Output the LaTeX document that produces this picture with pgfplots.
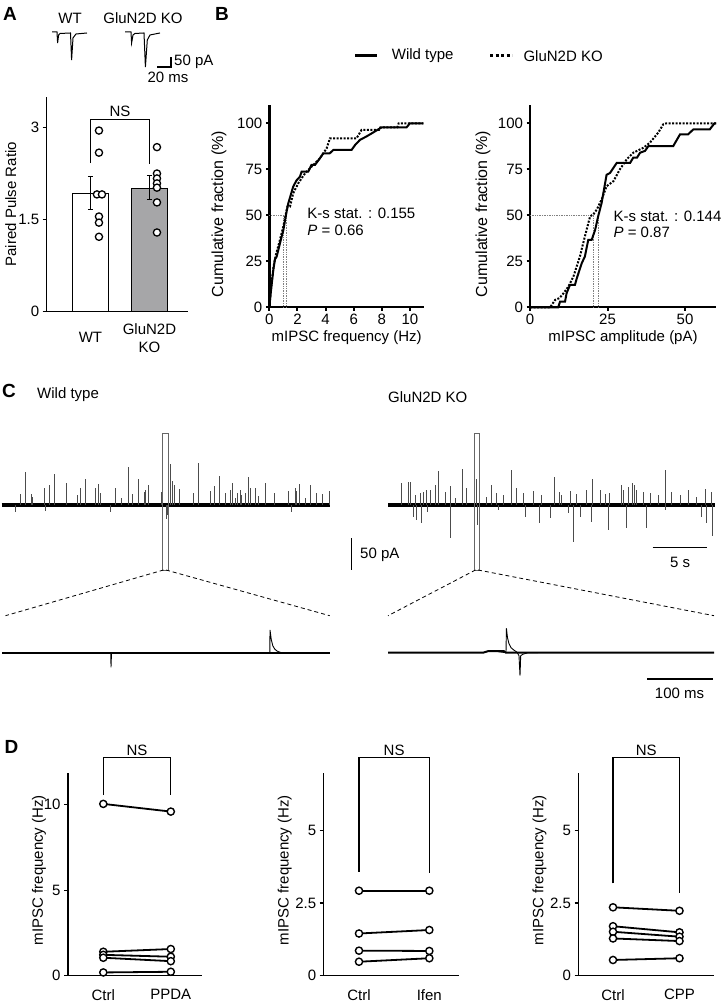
\documentclass[border=0pt]{standalone}
\usepackage{fontspec}
\setmainfont{Liberation Sans}
\usepackage{pgfplots}
\pgfplotsset{compat=1.18}
\definecolor{barg}{RGB}{166,166,168}
\newcommand{\fs}{\fontsize{15}{18}\selectfont}
\newcommand{\lf}{\fontsize{19}{22}\selectfont\bfseries}
\pgfplotsset{
 base/.style={scale only axis, anchor=south west, clip=false, font=\fs, /pgf/number format/assume math mode=true},
 myax/.style={base, axis x line*=bottom, axis y line*=left, axis line style={line width=1.2pt,-},
   tick align=outside, major tick length=4pt, every tick/.style={black, line width=1.2pt}},
 trace/.style={base, hide axis},
 pairline/.style={black, line width=1.8pt, mark=*, mark size=3.6pt, mark options={fill=white, line width=1.4pt}},
 errl/.style={black, line width=1pt, mark=none, forget plot},
 cdfax/.style={base, axis x line*=bottom, axis y line*=left, x axis line style={line width=2pt,-}, y axis line style={line width=2.6pt,-},
   tick align=outside, major tick length=3.5pt, every tick/.style={black, line width=2pt},
   ymin=0, ymax=110, ytick={0,25,50,75,100}, ylabel={Cumulative fraction (\%)}},
}
\begin{document}
\begin{tikzpicture}
\path[use as bounding box] (0,0) rectangle (720pt,1006pt);

% ---------------- Panel A traces ----------------
\begin{axis}[trace, width=160pt, height=80pt, at={(40pt,926pt)}, xmin=40, xmax=200, ymin=-80, ymax=0]
\addplot[black, line width=1pt] coordinates {(52,-32)(57,-32)(57.6,-43)(58.6,-35)(60,-33.5)(70.5,-33)(71.6,-60)(73,-38)(76,-34)(87,-33)};
\addplot[black, line width=1pt] coordinates {(125,-32)(131,-32)(131.6,-43)(133,-35)(135,-33.5)(144,-33)(145.4,-67)(147.3,-40)(150,-35)(160,-33)};
\end{axis}

% ---------------- Panel A bars ----------------
\begin{axis}[myax, width=141.3pt, height=214.9pt, at={(46.7pt,694.3pt)},
  xmin=-0.742, xmax=1.653, ymin=0, ymax=3.5, ytick={0,1.5,3}, yticklabels={0,1.5,3},
  xtick={0,1}, xticklabels={WT,{GluN2D\\KO}}, xtick style={draw=none},
  xticklabel style={align=center, anchor=center, yshift=-22pt},
  ylabel={Paired Pulse Ratio}, ylabel style={at={(axis description cs:-0.255,0.5)}, anchor=center}]
\addplot[ybar, bar width=36pt, fill=white, draw=black, line width=1pt] coordinates {(0,1.92)};
\addplot[ybar, bar width=36pt, fill=barg, draw=black, line width=1pt] coordinates {(1,2.01)};
% error bars (mean +- SEM)
\addplot[errl] coordinates {(0,1.66)(0,2.20)};
\addplot[errl] coordinates {(-0.045,1.66)(0.045,1.66)};
\addplot[errl] coordinates {(-0.045,2.20)(0.045,2.20)};
\addplot[errl] coordinates {(1,1.83)(1,2.22)};
\addplot[errl] coordinates {(0.955,1.83)(1.045,1.83)};
\addplot[errl] coordinates {(0.955,2.22)(1.045,2.22)};
\addplot[only marks, mark=*, mark size=3.6pt, mark options={fill=white, draw=black, line width=1.3pt}]
  coordinates {(0.144,2.95)(0.144,2.59)(0.11,1.91)(0.195,1.91)(0.144,1.55)(0.144,1.45)(0.144,1.22)};
\addplot[only marks, mark=*, mark size=3.6pt, mark options={fill=white, draw=black, line width=1.3pt}]
  coordinates {(1.127,2.68)(1.127,2.25)(1.127,2.17)(1.127,2.09)(1.127,2.02)(1.127,1.78)(1.127,1.29)};
\draw[line width=1pt] (axis cs:0,2.42) -- (axis cs:0,3.133) -- (axis cs:1,3.133) -- (axis cs:1,2.41);
\node[anchor=south, inner sep=2pt] at (axis cs:0.5,3.133) {NS};
\end{axis}

% ---------------- Panel B left ----------------
\begin{axis}[cdfax, width=154.7pt, height=202.4pt, at={(269.3pt,698.7pt)},
  xmin=0, xmax=11, xtick={0,2,4,6,8,10},
  xlabel={mIPSC frequency (Hz)}, xlabel style={at={(axis description cs:0.5,-0.152)}, anchor=center},
  ylabel style={at={(axis description cs:-0.325,0.461)}, anchor=center, font=\fontsize{16}{19}\selectfont}]
\addplot[gray, densely dotted, line width=0.7pt] coordinates {(0,50)(1.2,50)};
\addplot[gray, densely dotted, line width=0.7pt] coordinates {(1.0,0)(1.0,50)};
\addplot[gray, densely dotted, line width=0.7pt] coordinates {(1.2,0)(1.2,50)};
\addplot[black, line width=2pt] coordinates {(0,0)(0.1,7.6)(0.28,20)(0.4,26)(0.52,27.5)(0.76,34.8)(1.0,42)(1.23,52)(1.35,56.5)(1.7,65.6)(1.94,69)(2.18,71)(2.3,73.7)(2.77,73.7)(3.0,77.4)(3.25,77.4)(3.6,81)(3.84,83.7)(4.3,83.7)(4.55,85.5)(5.85,85.5)(6.1,88.2)(6.45,91)(6.9,92.8)(7.3,94.6)(7.75,96.7)(8.0,97.8)(9.76,97.8)(10.0,100)(10.95,100)};
\addplot[black, line width=2pt, dash pattern=on 2pt off 1.5pt] coordinates {(0,0)(0.12,10)(0.3,22)(0.45,28)(0.7,35)(1.0,44)(1.28,54.7)(1.47,54.7)(1.7,62)(2.06,67.4)(2.54,72.8)(3.13,77.4)(3.6,81)(4.08,86.4)(4.31,91.8)(6.2,91.8)(6.56,96.4)(7.8,96.4)(7.9,97.8)(9.1,97.8)(9.2,100)(10.95,100)};
\node[anchor=west, inner sep=0pt] at (axis cs:2.7,51.1) {K-s stat. : 0.155};
\node[anchor=west, inner sep=0pt] at (axis cs:2.7,42) {\textit{P} = 0.66};
\end{axis}

% ---------------- Panel B right ----------------
\begin{axis}[cdfax, width=186pt, height=202.4pt, at={(530pt,698.7pt)},
  xmin=0, xmax=60, xtick={0,25,50},
  xlabel={mIPSC amplitude (pA)}, xlabel style={at={(axis description cs:0.5,-0.152)}, anchor=center},
  ylabel style={at={(axis description cs:-0.253,0.461)}, anchor=center, font=\fontsize{16}{19}\selectfont}]
\addplot[gray, densely dotted, line width=0.7pt] coordinates {(0,50)(20.4,50)};
\addplot[gray, densely dotted, line width=0.7pt] coordinates {(20.4,0)(20.4,50)};
\addplot[gray, densely dotted, line width=0.7pt] coordinates {(22,0)(22,50)};
\addplot[black, line width=2pt] coordinates {(0,0)(9.1,0)(9.7,3.1)(11.3,3.1)(11.8,7.6)(12.9,12.2)(14.5,12.2)(15.1,15.8)(16.7,24)(17.7,27.6)(18.8,36.7)(19.9,36.7)(21,42)(22,49.5)(23.1,56.7)(24.7,72)(25.8,73)(28,78.5)(32.3,78.5)(33.3,81.3)(34.5,81.3)(35.5,84)(37.1,85)(38.2,87.6)(46.2,87.6)(48.4,94)(51,94)(52.7,96.7)(58,96.7)(59.5,100)(60,100)};
\addplot[black, line width=2pt, dash pattern=on 2pt off 1.5pt] coordinates {(0,0)(6.5,0)(8.1,4)(9.5,5)(10.8,7.6)(12.4,11.3)(14,16.7)(16.1,27.6)(17.7,38.5)(19.4,49.5)(20.4,50.4)(21.5,53)(23.1,58.5)(24.7,65.8)(26.9,68.5)(29,75)(31.2,80.4)(33.3,84)(36.6,86.7)(38.7,89.5)(41.4,95)(43,99.5)(44,100)(60,100)};
\node[anchor=west, inner sep=0pt] at (axis cs:26.9,49.6) {K-s stat. : 0.144};
\node[anchor=west, inner sep=0pt] at (axis cs:26.9,40.9) {\textit{P} = 0.87};
\end{axis}

% ---------------- Panel C overview traces ----------------
\begin{axis}[trace, width=328.3pt, height=100pt, at={(1.7pt,451pt)}, xmin=0, xmax=328.3, ymin=-50, ymax=50]
\addplot[black, line width=4pt] coordinates {(0,0)(328.3,0)};
\addplot[ycomb, black!70, line width=0.8pt] coordinates {(13.3,-6.7)(18.3,11)(23.3,33.3)(29.3,11)(30.7,8.3)(42.7,16.7)(43.3,-5.7)(47.7,20)(52.7,30.7)(65,21.7)(76,10)(78.3,16.7)(83.3,26)(93.3,16.7)(96.7,20.7)(98.3,12.3)(108.3,-6.7)(113.3,17.3)(119.3,6.7)(126.7,38.3)(130.7,11)(136.7,26)(142.7,13.3)(144,15)(146.7,20)(159.3,13.3)(165,-14.3)(166,-10)(168.3,41)(171,24.3)(172.7,20)(177.7,15.7)(191.7,11.7)(196.7,42.3)(208.3,14)(212.7,19)(217.3,29)(224,11.7)(228.3,15)(231,22.3)(233.3,6.7)(236,12.3)(238.3,15)(240,10)(244,11.7)(246.7,27.7)(248.3,16.7)(253.3,16.7)(256.7,9)(264,22.3)(272.7,11.7)(286.7,14)(289.3,-6.7)(293.3,16.7)(295,14.3)(297.3,21)(304,6.7)(308.3,20)(314.3,11.7)(321,11)(328,14.3)};
\end{axis}
\begin{axis}[trace, width=326.7pt, height=100pt, at={(388.3pt,451pt)}, xmin=0, xmax=326.7, ymin=-50, ymax=50]
\addplot[black, line width=4pt] coordinates {(0,0)(326.7,0)};
\addplot[ycomb, black!70, line width=0.8pt] coordinates {(13.3,22.3)(20,23.3)(21.7,23.3)(25,-11.7)(26.7,10)(27.7,-15)(31.7,11.7)(32.7,-18.3)(35,13.3)(38.3,15)(38.8,-6.7)(41.7,15)(46.7,20)(50,34.3)(56.7,13.3)(61.7,19)(62.3,-33.3)(66.7,6.7)(74,36)(78.3,16.7)(88.3,25.7)(88.8,-20)(98.3,8.3)(103.3,20)(108.3,11.7)(110,-5)(115,10)(123.3,35)(128.3,16.7)(135,11.7)(136.7,-11.7)(145,14.3)(150.7,-18.3)(153.3,10)(161.7,-13.3)(165.7,28.3)(170.7,13.3)(173.3,10)(180,-8.3)(181.7,14.3)(185,-36.7)(188.3,10.7)(191.7,-11.7)(198.3,15)(203.3,-16.7)(204.3,26)(211.7,15)(216.7,11)(220,-25)(221,11.7)(232.7,20)(235,15)(238.3,-23.3)(240,18.3)(244.3,21.7)(245.7,20)(248.3,15)(255,12.7)(258.3,-23.3)(261.7,11.7)(270,10)(276.7,35)(277.2,-5)(283.3,13.3)(291.7,10)(300,15)(308.3,7.7)(313.3,-11.7)(317.3,16)(318.3,-18.3)(323.3,13.3)(323.8,-30.7)};
\end{axis}

% ---------------- Panel C zoomed traces ----------------
\begin{axis}[trace, width=327.4pt, height=60pt, at={(2.3pt,323.3pt)}, xmin=0, xmax=327.4, ymin=-30, ymax=30]
\addplot[black, line width=2pt] coordinates {(0,0)(327.4,0)};
\addplot[black, line width=0.9pt] coordinates {(100,0)(108.5,0)(108.7,-14.6)(109.2,-1)(110,0)(267.5,0)(267.7,22.7)(269,13)(270.5,7)(272.5,3.5)(275,1.5)(279,0)(290,0)};
\end{axis}
\begin{axis}[trace, width=326pt, height=60pt, at={(388pt,323.3pt)}, xmin=0, xmax=326, ymin=-30, ymax=30]
\addplot[black, line width=2pt] coordinates {(0,0)(95,0)(100,1.5)(116,1.5)(118,0)(326,0)};
\addplot[black, line width=0.9pt] coordinates {(110,1)(118,0)(118.4,24.4)(119.5,15)(121,9)(123,5)(126,2.5)(129,0.5)(131,-3)(132,-23)(132.7,-3)(135,-1.5)(140,0)(150,0)};
\end{axis}

% ---------------- Panel D ----------------
\begin{axis}[myax, width=134pt, height=202.4pt, at={(68pt,30.3pt)},
  xmin=-0.523, xmax=1.462, ymin=0, ymax=11.84, ytick={0,5,10},
  xtick={0,1}, xticklabels={Ctrl,PPDA}, xtick style={draw=none}, xticklabel style={yshift=-6pt},
  ylabel={mIPSC frequency (Hz)}, ylabel style={at={(axis description cs:-0.216,0.522)}, anchor=center}]
\addplot[pairline] coordinates {(0,10.05)(1,9.6)};
\addplot[pairline] coordinates {(0,1.4)(1,1.56)};
\addplot[pairline] coordinates {(0,1.22)(1,1.11)};
\addplot[pairline] coordinates {(0,1.05)(1,0.85)};
\addplot[pairline] coordinates {(0,0.19)(1,0.23)};
\draw[line width=1.2pt] (axis cs:0,10.57) -- (axis cs:0,12.77) -- (axis cs:1,12.77) -- (axis cs:1,10.57);
\node[anchor=south, inner sep=1.5pt] at (axis cs:0.5,12.77) {NS};
\end{axis}
\begin{axis}[myax, width=135.3pt, height=202.4pt, at={(323.7pt,30.3pt)},
  xmin=-0.502, xmax=1.422, ymin=0, ymax=6.955, ytick={0,2.5,5}, yticklabels={0,2.5,5},
  xtick={0,1}, xticklabels={Ctrl,Ifen}, xtick style={draw=none}, xticklabel style={yshift=-6pt},
  ylabel={mIPSC frequency (Hz)}, ylabel style={at={(axis description cs:-0.288,0.522)}, anchor=center}]
\addplot[pairline] coordinates {(0,2.92)(1,2.92)};
\addplot[pairline] coordinates {(0,1.45)(1,1.57)};
\addplot[pairline] coordinates {(0,0.86)(1,0.85)};
\addplot[pairline] coordinates {(0,0.48)(1,0.6)};
\draw[line width=1.2pt] (axis cs:0,3.57) -- (axis cs:0,7.505) -- (axis cs:1,7.505) -- (axis cs:1,3.52);
\node[anchor=south, inner sep=1.5pt] at (axis cs:0.5,7.505) {NS};
\end{axis}
\begin{axis}[myax, width=135.5pt, height=202.4pt, at={(578.5pt,30.3pt)},
  xmin=-0.519, xmax=1.519, ymin=0, ymax=6.955, ytick={0,2.5,5}, yticklabels={0,2.5,5},
  xtick={0,1}, xticklabels={Ctrl,CPP}, xtick style={draw=none}, xticklabel style={yshift=-6pt},
  ylabel={mIPSC frequency (Hz)}, ylabel style={at={(axis description cs:-0.288,0.522)}, anchor=center}]
\addplot[pairline] coordinates {(0,2.35)(1,2.23)};
\addplot[pairline] coordinates {(0,1.70)(1,1.49)};
\addplot[pairline] coordinates {(0,1.51)(1,1.34)};
\addplot[pairline] coordinates {(0,1.28)(1,1.19)};
\addplot[pairline] coordinates {(0,0.54)(1,0.6)};
\draw[line width=1.2pt] (axis cs:0,3.175) -- (axis cs:0,7.505) -- (axis cs:1,7.505) -- (axis cs:1,2.83);
\node[anchor=south, inner sep=1.5pt] at (axis cs:0.5,7.505) {NS};
\end{axis}

% ---------------- Annotations in pixel coordinates ----------------
\begin{scope}[x=1pt, y=-1pt, yshift=1006pt, font=\fs]
\node[font=\lf] at (10,14) {A};
\node[font=\lf] at (222,14) {B};
\node[font=\lf] at (9,391) {C};
\node[font=\lf] at (11.5,746.7) {D};
\node at (70,18) {WT};
\node at (143,18) {GluN2D KO};
\draw[line width=1.2pt] (157,67) -- (171,67) -- (171,57);
\node[anchor=west, inner sep=0pt] at (174,62) {50 pA};
\node at (168,77) {20 ms};
% legend B
\draw[black, line width=3pt] (355,56) -- (376.7,56);
\node[anchor=west, inner sep=0pt] at (391.7,56) {Wild type};
\draw[black, line width=3pt, dash pattern=on 3pt off 2.5pt] (490,56) -- (512,56);
\node[anchor=west, inner sep=0pt] at (523.3,56) {GluN2D KO};
% C labels
\node[anchor=west, inner sep=0pt] at (37,395) {Wild type};
\node[anchor=west, inner sep=0pt] at (388,396.7) {GluN2D KO};
% boxes and zoom lines
\draw[black!60, line width=0.8pt] (162.3,433.3) rectangle (168.3,570);
\draw[black!60, line width=0.8pt] (474,433.3) rectangle (479.3,570);
\draw[black, line width=0.8pt, dash pattern=on 4pt off 3pt] (163.5,570) -- (5.5,615.7);
\draw[black, line width=0.8pt, dash pattern=on 4pt off 3pt] (166,570) -- (329.7,615.7);
\draw[black, line width=0.8pt, dash pattern=on 4pt off 3pt] (475.5,570) -- (388,615.7);
\draw[black, line width=0.8pt, dash pattern=on 4pt off 3pt] (478,570) -- (714,615.7);
% scale bars C
\draw[line width=1.5pt] (351.7,538.3) -- (351.7,570);
\node[anchor=west, inner sep=0pt] at (360,555) {50 pA};
\draw[line width=1.5pt] (652.7,547.7) -- (707.3,547.7);
\node at (680,562.7) {5 s};
\draw[line width=1.5pt] (647.4,679) -- (712.6,679);
\node at (679.5,693.3) {100 ms};
\end{scope}
\end{tikzpicture}
\end{document}
